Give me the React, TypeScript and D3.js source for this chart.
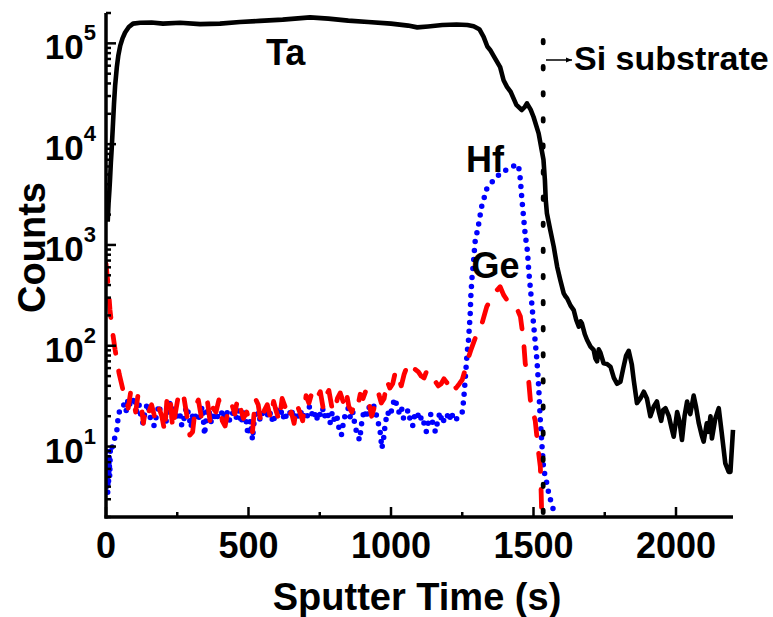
import React from 'react';
import * as d3 from 'd3';

// ---- Data ----
const taTime = [6, 9, 12, 14, 17, 20, 24, 28, 32, 38, 43, 50, 58, 67, 80, 95, 120, 160, 200, 260, 330, 400, 470, 540, 620, 716, 780, 850, 920, 1000, 1060, 1092, 1130, 1180, 1230, 1268, 1290, 1310, 1325, 1338, 1348, 1360, 1383, 1395, 1407, 1420, 1440, 1459, 1470, 1477, 1490, 1500, 1518, 1535, 1540, 1543, 1547, 1559, 1571, 1583, 1594, 1606, 1612, 1618, 1630, 1641, 1650, 1659, 1665, 1670, 1680, 1688, 1700, 1711, 1717, 1723, 1729, 1735, 1746, 1758, 1770, 1782, 1793, 1805, 1815, 1825, 1834, 1845, 1852, 1863, 1875, 1887, 1898, 1910, 1922, 1933, 1940, 1948, 1955, 1963, 1975, 1985, 1992, 2004, 2012, 2021, 2030, 2039, 2045, 2050, 2062, 2070, 2080, 2090, 2097, 2108, 2114, 2121, 2126, 2138, 2150, 2160, 2173, 2185, 2191, 2200];
const taCounts = [1700, 2600, 3500, 4400, 6500, 9000, 15000, 25000, 38000, 58000, 75000, 95000, 112000, 128000, 145000, 157000, 160000, 161000, 157000, 160000, 155000, 157000, 163000, 167000, 172000, 181000, 176000, 168000, 163000, 157000, 150000, 144000, 147000, 152000, 154000, 152000, 148000, 138000, 116000, 93000, 86000, 75000, 58000, 43000, 37000, 33000, 24500, 21800, 23500, 25400, 22000, 18700, 12800, 7000, 4400, 2800, 2060, 1400, 962, 608, 449, 331, 310, 295, 250, 226, 180, 155, 175, 166, 130, 114, 98, 91, 75, 70, 92, 85, 67, 66, 62, 48, 42, 44, 60, 80, 89, 65, 45, 27, 30, 35, 30, 20, 25, 28, 22, 18, 23, 24, 20, 15, 12.5, 22, 18, 11.6, 20, 28, 23, 21, 32, 25, 17, 13, 11.2, 17, 14, 20, 12, 19, 24, 14, 6.8, 5.6, 5.6, 14.6];

const geTime = [0, 8, 14, 22, 32, 46, 60, 70, 78, 86, 95, 104, 112, 122, 131, 140, 150, 160, 172, 184, 196, 206, 214, 224, 234, 244, 254, 264, 274, 284, 294, 304, 314, 324, 334, 344, 356, 366, 376, 386, 396, 408, 418, 430, 440, 452, 462, 472, 482, 494, 504, 514, 524, 534, 544, 556, 566, 578, 588, 598, 608, 618, 628, 638, 650, 660, 670, 680, 690, 702, 712, 722, 732, 742, 752, 762, 772, 782, 792, 802, 812, 822, 832, 842, 852, 862, 872, 882, 892, 902, 912, 922, 932, 944, 956, 966, 976, 986, 996, 1006, 1016, 1026, 1036, 1046, 1056, 1066, 1076, 1086, 1096, 1106, 1116, 1126, 1136, 1146, 1156, 1166, 1176, 1186, 1196, 1206, 1216, 1228, 1240, 1250, 1258, 1267, 1280, 1290, 1305, 1319, 1336, 1350, 1365, 1383, 1395, 1407, 1424, 1440, 1454, 1465, 1471, 1483, 1489, 1506, 1518, 1524, 1527, 1529];
const geCounts = [650, 385, 226, 143, 91, 53, 36, 33, 24, 34, 30, 22, 32, 29, 17, 25, 22, 26, 19, 25, 20, 14, 30, 33, 15, 22, 32, 27, 30, 20, 13, 14, 25, 29, 20, 26, 28, 17, 24, 22, 29, 18, 16, 24, 27, 21, 30, 24, 19, 22, 17, 14, 30, 26, 17, 23, 26, 19, 28, 22, 18, 30, 25, 19, 22, 17, 26, 22, 18, 32, 27, 34, 29, 31, 35, 24, 32, 36, 25, 22, 30, 34, 28, 36, 25, 22, 26, 24, 33, 30, 36, 28, 20, 26, 34, 27, 30, 45, 38, 42, 56, 48, 40, 52, 62, 68, 60, 58, 55, 50, 48, 57, 52, 46, 44, 40, 42, 47, 43, 40, 45, 38, 42, 46, 55, 70, 90, 108, 140, 166, 244, 290, 340, 385, 320, 284, 274, 240, 195, 114, 67, 45, 29, 18, 8.6, 6.3, 3.4, 2.0];

const hfTime = [0, 2, 3, 5, 6, 8, 9, 11, 13, 15, 17, 20, 24, 30, 37, 43, 50, 55, 62, 70, 78, 86, 94, 100, 108, 116, 124, 130, 138, 146, 154, 162, 170, 178, 186, 194, 202, 210, 218, 226, 234, 242, 250, 258, 266, 274, 282, 290, 298, 306, 314, 322, 330, 338, 346, 354, 362, 370, 378, 386, 394, 402, 410, 418, 426, 434, 442, 450, 458, 466, 474, 482, 490, 498, 506, 514, 522, 530, 538, 546, 554, 562, 570, 578, 586, 594, 602, 610, 618, 626, 634, 642, 650, 658, 666, 674, 682, 690, 698, 706, 714, 722, 730, 738, 746, 754, 762, 770, 778, 786, 794, 802, 810, 818, 826, 834, 842, 850, 858, 866, 874, 882, 890, 898, 906, 914, 922, 930, 938, 946, 954, 962, 968, 974, 980, 988, 996, 1004, 1012, 1020, 1028, 1036, 1044, 1052, 1060, 1068, 1076, 1084, 1092, 1100, 1108, 1116, 1124, 1132, 1140, 1148, 1156, 1164, 1172, 1180, 1188, 1196, 1204, 1212, 1220, 1232, 1243, 1250, 1255, 1261, 1267, 1272, 1276, 1278, 1280, 1284, 1290, 1295, 1307, 1318, 1336, 1360, 1389, 1418, 1442, 1450, 1454, 1459, 1465, 1471, 1479, 1483, 1489, 1495, 1500, 1506, 1512, 1518, 1524, 1530, 1535, 1541, 1547, 1553, 1559, 1565, 1571, 1578];
const hfCounts = [9, 6, 4, 7, 3.5, 6, 4.5, 8, 5, 9, 10, 9.5, 10.5, 12, 13.5, 20, 24, 25, 26, 22, 30, 25, 28, 31, 22, 26, 19, 17, 23, 27, 20, 17, 16, 21, 26, 20, 19, 17, 24, 28, 19, 21, 20, 22, 16, 19, 25, 21, 15.5, 22, 20, 18, 21, 25, 13, 24, 22, 17, 22, 18, 21, 20, 23, 19, 22, 18, 20, 25, 19, 23, 17, 22, 20, 13, 18, 11.7, 21, 23, 18, 22, 20, 24, 19, 22, 17, 21, 25, 20, 23, 18, 21, 20, 24, 19, 22, 20, 23, 19, 22, 20, 25, 21, 23, 18, 22, 20, 24, 19, 21, 17, 22, 18, 20, 15, 13, 18, 22, 24, 19, 22, 16, 13, 11.6, 18, 23, 19, 25, 21, 26, 22, 18, 14, 9.6, 12, 17, 22, 20, 24, 30, 26, 22, 25, 19, 21, 23, 18, 16, 21, 22, 18, 20, 17, 14, 18, 21, 16, 14, 18, 22, 17, 19, 21, 18, 22, 18, 19, 20, 22, 29, 49, 84, 114, 170, 210, 307, 467, 707, 1070, 1578, 2400, 3600, 4400, 5300, 5750, 6350, 5600, 4400, 2900, 1900, 1256, 857, 564, 372, 244, 166, 110, 72, 40, 18, 10, 6.3, 5, 4.3, 3.5, 3, 2.6, 2.3, 2.05];

const xMajorTicks = [0, 500, 1000, 1500, 2000];
const xMinorTicks = [250, 750, 1250, 1750];
const yMajorExponents = [1, 2, 3, 4, 5];
const substrateTime = 1534;
const substrateTop = 107000;

const FONT = '"Liberation Sans", Arial, Helvetica, sans-serif';

export default function App() {
  const x = d3.scaleLinear().domain([0, 2200]).range([106, 733]);
  const y = d3.scaleLog().domain([2, 2e5]).range([517, 13]);
  const line = d3
    .line<[number, number]>()
    .x((d) => x(d[0]))
    .y((d) => y(d[1]));

  const ta = taTime.map((t, i) => [t, taCounts[i]] as [number, number]);
  const ge = geTime.map((t, i) => [t, geCounts[i]] as [number, number]);
  const hf = hfTime.map((t, i) => [t, hfCounts[i]] as [number, number]);

  const yMinor: number[] = [];
  for (let e = 0; e <= 5; e++) {
    for (let k = 2; k <= 9; k++) {
      const v = k * Math.pow(10, e);
      if (v >= 2 && v <= 2e5) yMinor.push(v);
    }
  }

  const [x0, x1] = x.range();
  const [yb, yt] = y.range();

  return (
    <svg
      width={773}
      height={617}
      style={{ position: 'absolute', left: 0, top: 0, background: '#fff' }}
      fontFamily={FONT}
      fontWeight="bold"
    >
      <defs>
        <clipPath id="plot">
          <rect x={x0} y={yt - 5} width={x1 - x0 + 5} height={yb - yt + 5} />
        </clipPath>
        <marker id="arr" viewBox="0 0 10 10" refX="10" refY="5" markerWidth="9" markerHeight="6" orient="auto" markerUnits="userSpaceOnUse">
          <path d="M0,1 L10,5 L0,9 Z" fill="#000" />
        </marker>
      </defs>
      <rect x={0} y={0} width={773} height={617} fill="#fff" />

      <g clipPath="url(#plot)">
        <path d={line(hf) || ''} fill="none" stroke="#0000ff" strokeWidth={5.5} strokeDasharray="0 9" strokeLinecap="round" strokeLinejoin="round" />
        <path d={line(ge) || ''} fill="none" stroke="#ff0000" strokeWidth={4.8} strokeDasharray="18 18" strokeLinecap="round" strokeLinejoin="round" />
        <path d={line(ta) || ''} fill="none" stroke="#000" strokeWidth={4.6} strokeLinejoin="round" />
        <line
          x1={x(substrateTime)}
          x2={x(substrateTime)}
          y1={y(substrateTop)}
          y2={yb}
          stroke="#000"
          strokeWidth={4.8}
          strokeDasharray="2.5 23.6"
          strokeLinecap="round"
        />
      </g>

      {/* axes */}
      <line x1={x0} x2={x0} y1={yt} y2={yb + 1.5} stroke="#000" strokeWidth={3.5} />
      <line x1={x0 - 1.5} x2={x1} y1={yb} y2={yb} stroke="#000" strokeWidth={3.5} />

      {xMajorTicks.map((t) => (
        <g key={'xM' + t}>
          <line x1={x(t)} x2={x(t)} y1={yb} y2={yb - 10} stroke="#000" strokeWidth={2.5} />
          <text x={x(t)} y={558} textAnchor="middle" fontSize={36}>
            {t}
          </text>
        </g>
      ))}
      {xMinorTicks.map((t) => (
        <line key={'xm' + t} x1={x(t)} x2={x(t)} y1={yb} y2={yb - 5} stroke="#000" strokeWidth={2.5} />
      ))}

      {yMajorExponents.map((e) => {
        const v = Math.pow(10, e);
        return (
          <g key={'yM' + e}>
            <line x1={x0} x2={x0 + 10} y1={y(v)} y2={y(v)} stroke="#000" strokeWidth={2.5} />
            <text x={96} y={y(v) + 16} textAnchor="end" fontSize={35}>
              10
              <tspan fontSize={22} dy={-19}>
                {e}
              </tspan>
            </text>
          </g>
        );
      })}
      {yMinor.map((v) => (
        <line key={'ym' + v} x1={x0} x2={x0 + 5} y1={y(v)} y2={y(v)} stroke="#000" strokeWidth={2.5} />
      ))}

      {/* axis titles */}
      <text x={417} y={610} textAnchor="middle" fontSize={38}>
        Sputter Time (s)
      </text>
      <text transform="translate(45,247.5) rotate(-90)" textAnchor="middle" fontSize={38}>
        Counts
      </text>

      {/* annotations */}
      <text x={266} y={65} fontSize={36}>Ta</text>
      <text x={466} y={171.7} fontSize={36}>Hf</text>
      <text x={471.5} y={278.3} fontSize={36}>Ge</text>
      <text x={574} y={70} fontSize={34}>Si substrate</text>
      <line x1={546} x2={572} y1={60} y2={60} stroke="#000" strokeWidth={1.5} markerEnd="url(#arr)" />
    </svg>
  );
}
